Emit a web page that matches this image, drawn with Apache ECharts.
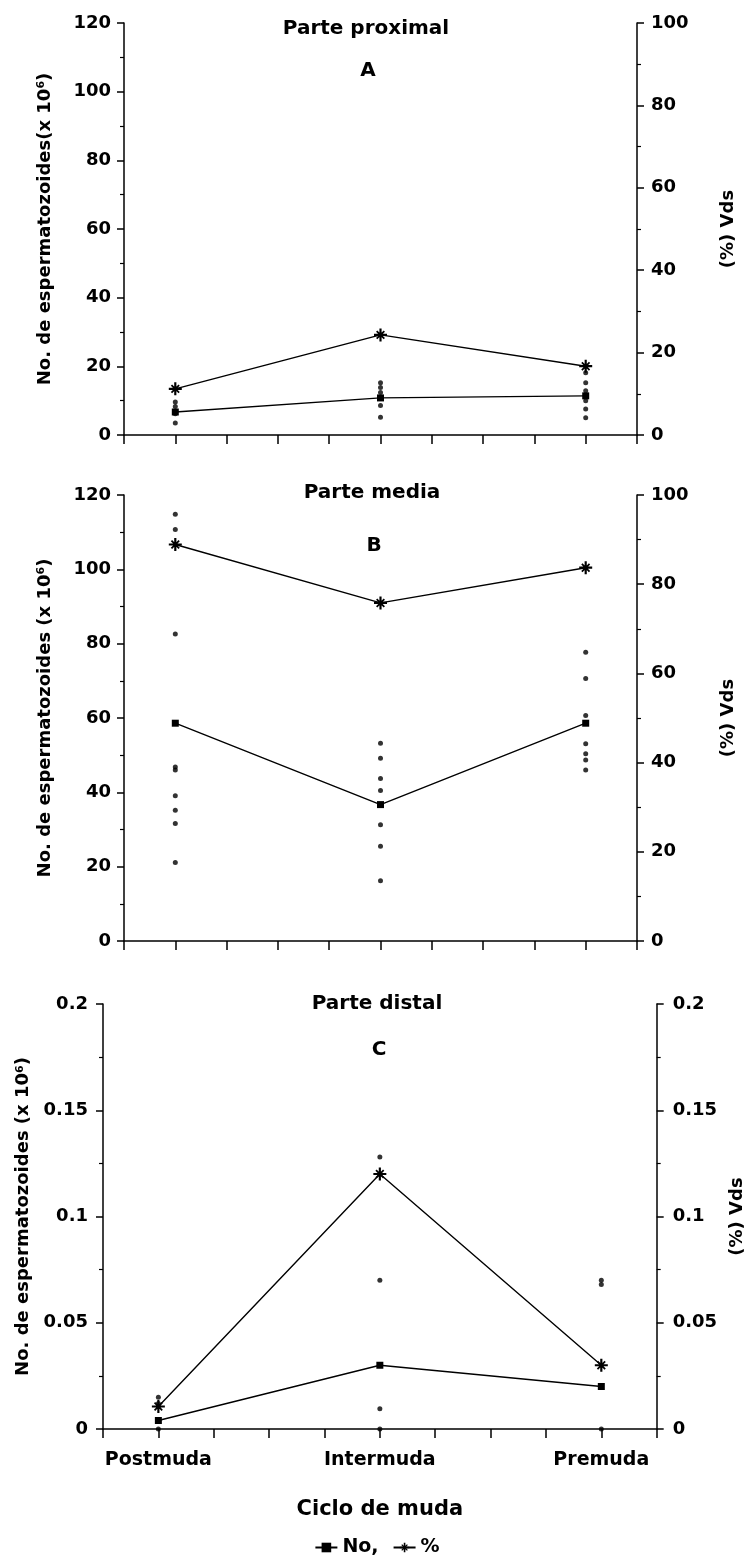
<!DOCTYPE html>
<html lang="es">
<head>
<meta charset="UTF-8">
<title>Espermatozoides por ciclo de muda</title>
<script src="https://cdn.jsdelivr.net/npm/echarts@6.0.0/dist/echarts.min.js"></script>
<style>
  body { margin: 0; background: #fff; }
  #chart { width: 754px; height: 1564px; }
</style>
</head>
<body>
<div id="chart"></div>
<script>
// categories sit on a 0..10 value axis, at 1, 5 and 9
const categories = ['Postmuda', 'Intermuda', 'Premuda'];
const catPos = [1, 5, 9];

// A - parte proximal
const noA = [6.7, 10.8, 11.4];
const pctA = [11.2, 24.3, 16.7];
const dotsA = [[9.6, 8.3, 6.2, 3.5], [15.2, 13.8, 12.4, 8.6, 5.2], [18.1, 15.2, 12.9, 10.0, 7.6, 5.0]];

// B - parte media
const noB = [58.6, 36.7, 58.6];
const pctB = [88.9, 75.8, 83.7];
const dotsB = [[114.8, 110.7, 82.6, 46.8, 46.0, 39.1, 35.2, 31.6, 21.1],
               [53.2, 49.2, 43.7, 40.5, 31.3, 25.5, 16.2],
               [77.7, 70.6, 60.7, 53.1, 50.4, 48.7, 46.0]];

// C - parte distal
const noC = [0.004, 0.03, 0.02];
const pctC = [0.0106, 0.12, 0.03];
const dotsC = [[0.015, 0.012, 0], [0.128, 0.070, 0.0095, 0], [0.070, 0.068, 0]];

const panelTitles = ['Parte proximal', 'Parte media', 'Parte distal'];
const panelLetters = ['A', 'B', 'C'];

const FONT = '"DejaVu Sans", Arial, sans-serif';
const star = 'path://M-1,-6L1,-6L1,6L-1,6Z M-6,-1L6,-1L6,1L-6,1Z ' +
             'M2.97,4.11L-4.11,-2.97L-2.97,-4.11L4.11,2.97Z M4.11,-2.97L-2.97,4.11L-4.11,2.97L2.97,-4.11Z';

const grids = [
  { left: 124, top: 23, width: 513, height: 412 },
  { left: 124, top: 495, width: 513, height: 446 },
  { left: 103, top: 1004, width: 555, height: 425 }
];

const leftName = 'No. de espermatozoides(x 10{s|6})';

function xAx(i) {
  const last = i === 2;
  return {
    type: 'value', gridIndex: i, min: 0, max: 10, interval: 1,
    axisLine: { lineStyle: { color: '#000', width: 1.5 } },
    axisTick: { length: 9, lineStyle: { color: '#000', width: 1.5 } },
    splitLine: { show: false },
    axisLabel: {
      show: last, margin: 22, color: '#000', fontFamily: FONT, fontWeight: 'bold', fontSize: 19,
      formatter: v => { const k = catPos.indexOf(v); return k >= 0 ? categories[k] : ''; }
    },
    name: last ? 'Ciclo de muda' : '', nameLocation: 'middle', nameGap: 70,
    nameTextStyle: { color: '#000', fontFamily: FONT, fontWeight: 'bold', fontSize: 21 }
  };
}

function yAx(i, pos, max, interval, name, gap, margin) {
  return {
    type: 'value', gridIndex: i, position: pos, min: 0, max: max, interval: interval,
    axisLine: { show: true, onZero: false, lineStyle: { color: '#000', width: 1.5 } },
    axisTick: { length: 7, lineStyle: { color: '#000', width: 1.5 } },
    minorTick: { show: true, splitNumber: 2, length: 4, lineStyle: { color: '#000', width: 1.2 } },
    splitLine: { show: false },
    axisLabel: { margin: margin, color: '#000', fontFamily: FONT, fontWeight: 'bold', fontSize: 18 },
    name: name, nameLocation: 'middle', nameRotate: 90, nameGap: gap,
    nameTextStyle: {
      color: '#000', fontFamily: FONT, fontWeight: 'bold', fontSize: 18,
      rich: { s: { fontSize: 11, fontWeight: 'bold', fontFamily: FONT, color: '#000', verticalAlign: 'top', padding: [0, 0, 8, 0] } }
    }
  };
}

const yAxes = [
  yAx(0, 'left', 120, 20, leftName, 69, 13),
  yAx(0, 'right', 100, 20, '(%) Vds', 82, 14),
  yAx(1, 'left', 120, 20, leftName.replace('(x', ' (x'), 69, 13),
  yAx(1, 'right', 100, 20, '(%) Vds', 82, 14),
  yAx(2, 'left', 0.2, 0.05, leftName.replace('(x', ' (x'), 63, 15),
  yAx(2, 'right', 0.2, 0.05, '(%) Vds', 68, 16)
];

const panels = [[noA, pctA, dotsA], [noB, pctB, dotsB], [noC, pctC, dotsC]];
const series = [];
panels.forEach(([no, pct, dots], i) => {
  const pts = [];
  dots.forEach((arr, k) => arr.forEach(v => pts.push([catPos[k], v])));
  series.push({
    type: 'scatter', xAxisIndex: i, yAxisIndex: 2 * i, symbol: 'circle', symbolSize: 5,
    itemStyle: { color: '#000' }, data: pts, silent: true
  });
  series.push({
    name: 'No,', type: 'line', xAxisIndex: i, yAxisIndex: 2 * i, symbol: 'rect', symbolSize: 7,
    lineStyle: { color: '#000', width: 1.4 }, itemStyle: { color: '#000' },
    data: no.map((v, k) => [catPos[k], v])
  });
  series.push({
    name: '%', type: 'line', xAxisIndex: i, yAxisIndex: 2 * i + 1, symbol: star, symbolSize: 13,
    lineStyle: { color: '#000', width: 1.4 }, itemStyle: { color: '#000' },
    data: pct.map((v, k) => [catPos[k], v])
  });
});

const titleY = [29, 493, 1004];
const letterY = [71, 546, 1050];
const titleX = [366, 372, 377];
const graphics = [];
panelTitles.forEach((t, i) => {
  graphics.push({ type: 'text', x: titleX[i], y: titleY[i],
    style: { text: t, fill: '#000', font: 'bold 20px ' + FONT, textAlign: 'center', textVerticalAlign: 'middle' } });
  graphics.push({ type: 'text', x: titleX[i] + 2, y: letterY[i],
    style: { text: panelLetters[i], fill: '#000', font: 'bold 20px ' + FONT, textAlign: 'center', textVerticalAlign: 'middle' } });
});

const chart = echarts.init(document.getElementById('chart'));
chart.setOption({
  animation: false,
  backgroundColor: '#fff',
  grid: grids,
  xAxis: [xAx(0), xAx(1), xAx(2)],
  yAxis: yAxes,
  legend: {
    data: ['No,', '%'], bottom: 2, left: 'center', itemWidth: 22, itemHeight: 12, itemGap: 14,
    textStyle: { color: '#000', fontFamily: FONT, fontWeight: 'bold', fontSize: 19 }
  },
  graphic: graphics,
  series: series
});
</script>
</body>
</html>
